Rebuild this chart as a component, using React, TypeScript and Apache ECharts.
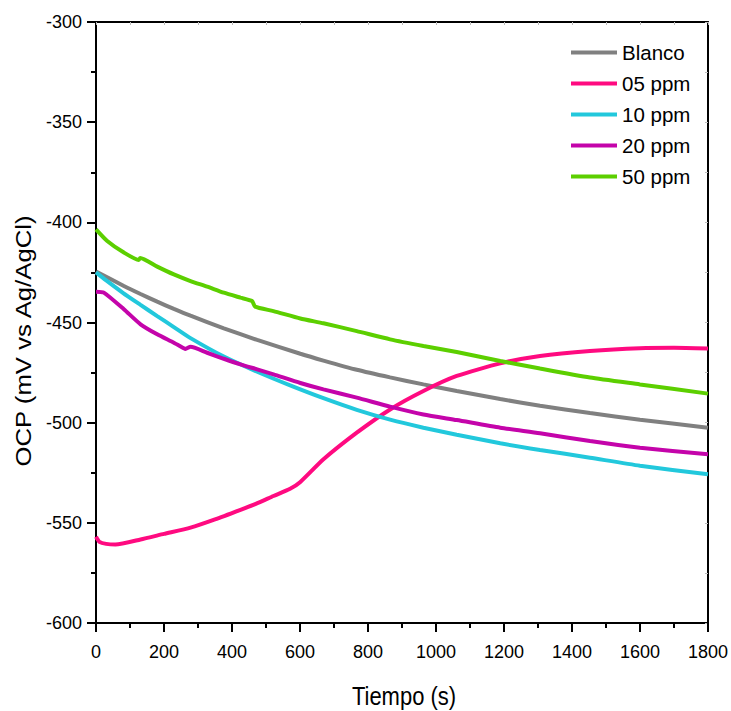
import React, { useEffect, useRef } from "react";
import * as echarts from "echarts";

const seriesNames = ["Blanco", "05 ppm", "10 ppm", "20 ppm", "50 ppm"];
const seriesColors = ["#808080", "#ff0a80", "#22c8dc", "#c404aa", "#5ccf00"];

const blancoT = [0, 82, 131, 180, 229, 278, 376, 474, 601, 669, 767, 865, 963, 1061, 1189, 1306, 1453, 1600, 1800];
const blancoV = [-424.5, -431.8, -435.8, -439.6, -443.2, -446.6, -452.9, -458.7, -465.6, -469, -473.6, -477.4, -480.9, -484.2, -488.2, -491.6, -495.2, -498.5, -502.5];

const p05T = [0, 10, 30, 57, 131, 200, 278, 350, 425, 470, 522, 571, 601, 669, 767, 865, 963, 1061, 1189, 1306, 1453, 1600, 1700, 1800];
const p05V = [-557, -559.5, -560.5, -560.8, -558.3, -555.5, -552.4, -548.3, -543.5, -540.5, -536.6, -533, -529.6, -518.3, -505, -493.4, -484.2, -476.7, -470.4, -466.7, -464.2, -462.8, -462.6, -463];

const p10T = [0, 30, 80, 131, 180, 230, 278, 376, 474, 571, 669, 767, 865, 963, 1061, 1189, 1306, 1453, 1600, 1800];
const p10V = [-425, -429, -435.3, -441.2, -446.8, -452.4, -457.8, -467, -474.6, -481.4, -487.8, -493.6, -498.5, -502.5, -506, -510.3, -513.6, -517.5, -521.5, -525.8];

const p20T = [0, 23, 82, 131, 180, 229, 258, 263, 278, 327, 376, 425, 474, 522, 601, 669, 767, 865, 963, 1061, 1189, 1306, 1453, 1600, 1800];
const p20V = [-434.6, -435.1, -443.4, -450.9, -455.9, -460.1, -462.8, -463.2, -462.1, -465.1, -468.1, -470.9, -473.4, -475.9, -480.2, -483.4, -487.5, -492, -495.9, -498.7, -502.5, -505.3, -509.2, -512.5, -515.8];

const p50T = [0, 33, 82, 126, 130, 180, 229, 278, 327, 376, 425, 459, 468, 522, 601, 669, 767, 865, 963, 1061, 1189, 1306, 1453, 1600, 1800];
const p50V = [-403.5, -409.3, -415.1, -418.8, -417.8, -422.1, -426, -429.3, -432.1, -435.1, -437.6, -439.3, -442.1, -444.3, -448, -450.4, -454.3, -458.4, -461.7, -464.7, -469.2, -473, -477.5, -480.9, -485.5];

const xTicks = { min: 0, max: 1800, interval: 200 };
const yTicks = { min: -600, max: -300, interval: 50 };
const xTitle = "Tiempo (s)";
const yTitle = "OCP (mV vs Ag/AgCl)";

const FONT = "'Liberation Sans', Arial, sans-serif";

export default function App() {
  const ref = useRef<HTMLDivElement>(null);
  useEffect(() => {
    if (!ref.current) return;
    const chart = echarts.init(ref.current, undefined, { renderer: "svg" });
    const allT = [blancoT, p05T, p10T, p20T, p50T];
    const allV = [blancoV, p05V, p10V, p20V, p50V];
    const series = seriesNames.map((name, i) => ({
      name,
      type: "line",
      xAxisIndex: 0,
      yAxisIndex: 0,
      data: allT[i].map((t, j) => [t, allV[i][j]]),
      showSymbol: false,
      symbol: "none",
      smooth: 0.2,
      lineStyle: { color: seriesColors[i], width: 4 },
      itemStyle: { color: seriesColors[i] },
      z: 3,
    }));
    const frameAxisX = {
      type: "value",
      position: "top",
      min: xTicks.min,
      max: xTicks.max,
      interval: 100,
      axisLine: { show: true, onZero: false, lineStyle: { color: "#000", width: 2 } },
      axisTick: { show: true, inside: true, length: 3, lineStyle: { color: "#bbb", width: 1 } },
      axisLabel: { show: false },
      splitLine: { show: false },
    };
    const frameAxisY = {
      type: "value",
      position: "right",
      min: yTicks.min,
      max: yTicks.max,
      interval: 25,
      axisLine: { show: true, onZero: false, lineStyle: { color: "#000", width: 2 } },
      axisTick: { show: true, inside: true, length: 3, lineStyle: { color: "#bbb", width: 1 } },
      axisLabel: { show: false },
      splitLine: { show: false },
    };
    chart.setOption({
      animation: false,
      backgroundColor: "#fff",
      grid: { left: 96, right: 23, top: 22, bottom: 88, containLabel: false },
      legend: {
        orient: "vertical",
        left: 566,
        top: 37,
        icon: "rect",
        itemWidth: 46,
        itemHeight: 4,
        itemGap: 10,
        data: seriesNames,
        textStyle: { fontFamily: FONT, fontSize: 20.5, color: "#000", lineHeight: 20 },
      },
      graphic: [
        {
          type: "text",
          x: 23,
          y: 341,
          rotation: Math.PI / 2,
          scaleX: 1.17,
          style: {
            text: yTitle,
            fontFamily: FONT,
            fontSize: 22,
            fill: "#000",
            textAlign: "center",
            textVerticalAlign: "middle",
          },
        },
        {
          type: "text",
          x: 404,
          y: 696,
          scaleY: 1.2,
          style: {
            text: xTitle,
            fontFamily: FONT,
            fontSize: 22,
            fill: "#000",
            textAlign: "center",
            textVerticalAlign: "middle",
          },
        },
      ],
      xAxis: [
        {
          type: "value",
          position: "bottom",
          min: xTicks.min,
          max: xTicks.max,
          interval: xTicks.interval,
          axisLine: { show: true, onZero: false, lineStyle: { color: "#000", width: 2 } },
          axisTick: { show: true, inside: false, length: 9, lineStyle: { color: "#000", width: 2 } },
          minorTick: { show: true, splitNumber: 2, length: 5, lineStyle: { color: "#000", width: 2 } },
          axisLabel: { fontFamily: FONT, fontSize: 18, color: "#000", margin: 20, formatter: (v: number) => String(v) },
          splitLine: { show: false },
        },
        frameAxisX,
      ],
      yAxis: [
        {
          type: "value",
          position: "left",
          min: yTicks.min,
          max: yTicks.max,
          interval: yTicks.interval,
          axisLine: { show: true, onZero: false, lineStyle: { color: "#000", width: 2 } },
          axisTick: { show: true, inside: false, length: 9, lineStyle: { color: "#000", width: 2 } },
          minorTick: { show: true, splitNumber: 2, length: 5, lineStyle: { color: "#000", width: 2 } },
          axisLabel: { fontFamily: FONT, fontSize: 18, color: "#000", margin: 14, formatter: (v: number) => String(v) },
          splitLine: { show: false },
        },
        frameAxisY,
      ],
      series,
    });
    return () => chart.dispose();
  }, []);
  return <div ref={ref} style={{ width: 731, height: 711, position: "absolute", left: 0, top: 0 }} />;
}
